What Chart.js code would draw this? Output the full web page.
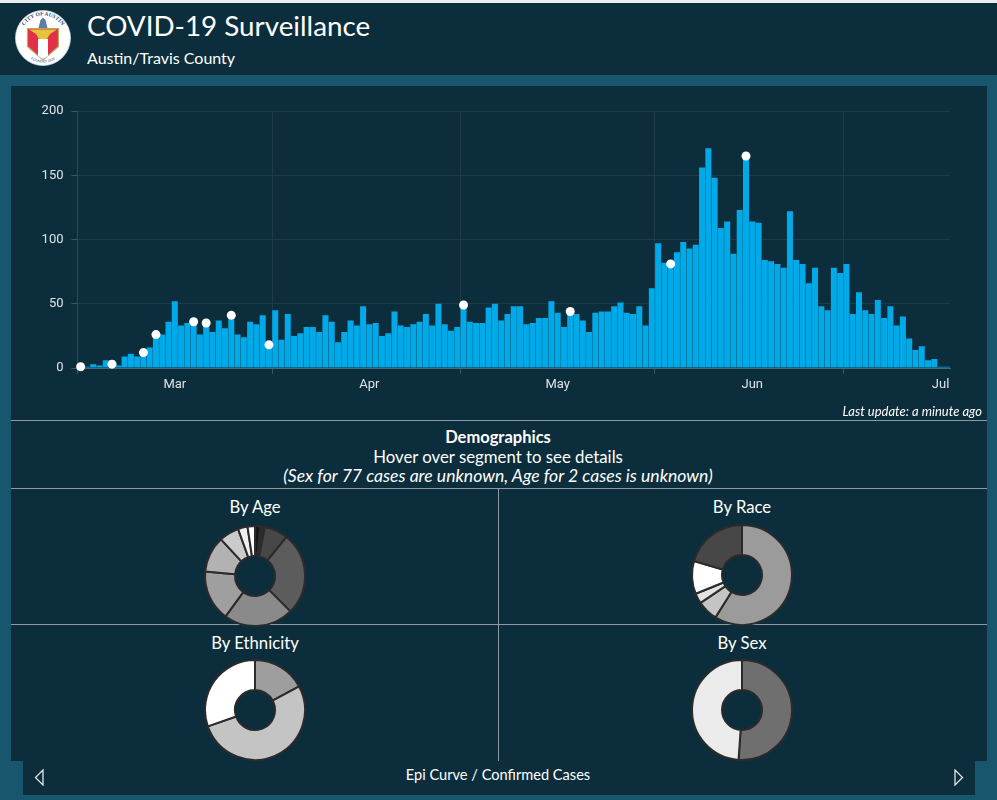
<!DOCTYPE html>
<html>
<head>
<meta charset="utf-8">
<title>COVID-19 Surveillance</title>
<script src="https://cdn.jsdelivr.net/npm/chart.js@4"></script>
<style>
  html, body { margin: 0; padding: 0; }
  body { width: 997px; height: 800px; background: #17566d; position: relative; overflow: hidden; font-family: Lato, sans-serif; color: #fff; }
  .box { position: absolute; background: #0c2e3c; }
  .rule { position: absolute; background: #8b9ba1; }
  .txt { position: absolute; white-space: nowrap; line-height: 1; }
  .mid { transform: translateX(-50%); }
  canvas { position: absolute; }
</style>
</head>
<body>
  <div style="position:absolute;left:0;top:0;width:997px;height:3px;background:#e8ecee"></div>
  <div class="box" style="left:0;top:3px;width:997px;height:72px"></div>
  <div class="box" style="left:11px;top:86px;width:976px;height:675px"></div>
  <div class="box" style="left:23px;top:761px;width:952px;height:34px"></div>

  <svg style="position:absolute;left:14px;top:9px" width="58" height="58" viewBox="0 0 58 58">
    <circle cx="29" cy="29" r="27.5" fill="#fff" stroke="#c9d6dc" stroke-width="0.8"/>
    <defs>
      <path id="sealTop" d="M6.500 29a22.500 22.500 0 0 1 45 0"/>
      <path id="sealBottom" d="M4.500 29a24.500 24.500 0 0 0 49 0"/>
    </defs>
    <text font-family="Liberation Serif" font-size="5.500" font-weight="bold" fill="#27507a" text-anchor="middle"><textPath href="#sealTop" startOffset="50%">CITY OF AUSTIN</textPath></text>
    <text font-family="Liberation Sans" font-size="3.400" fill="#27507a" text-anchor="middle"><textPath href="#sealBottom" startOffset="50%">FOUNDED 1839</textPath></text>
    <path d="M24.500 19L26.500 11L29 8.500L31.500 11L33.500 19Z" fill="#5d7fa3"/>
    <path d="M13.500 19.500H44.500V37.500L29 51L13.500 37.500Z" fill="#e2304a" stroke="#b9ab5c" stroke-width="1.200"/>
    <path d="M24 30H34V47L29 50L24 47Z" fill="#fff"/>
    <path d="M15 20.500H43L36 25L33 30H25L22 25Z" fill="#e9c23c"/>
  </svg>

  <div class="txt" style="left:87px;top:12px;font-size:27.800px">COVID-19 Surveillance</div>
  <div class="txt" style="left:87px;top:50px;font-size:16px">Austin/Travis County</div>

  <canvas id="epiChart" width="976" height="330" style="left:11px;top:86px"></canvas>

  <div class="txt" style="right:15px;top:405px;font-size:13px;font-style:italic">Last update: a minute ago</div>
  <div class="rule" style="left:11px;top:420px;width:976px;height:1px"></div>
  <div class="txt mid" style="left:498px;top:429px;font-size:16.500px;font-weight:bold">Demographics</div>
  <div class="txt mid" style="left:498px;top:449px;font-size:16.800px">Hover over segment to see details</div>
  <div class="txt mid" style="left:498px;top:467px;font-size:17.600px;font-style:italic">(Sex for 77 cases are unknown, Age for 2 cases is unknown)</div>
  <div class="rule" style="left:11px;top:488px;width:976px;height:1px"></div>
  <div class="rule" style="left:11px;top:624px;width:976px;height:1px"></div>
  <div class="rule" style="left:498px;top:489px;width:1px;height:272px"></div>

  <div class="txt mid" style="left:255px;top:499px;font-size:16.700px">By Age</div>
  <div class="txt mid" style="left:742px;top:499px;font-size:16.700px">By Race</div>
  <div class="txt mid" style="left:255px;top:635px;font-size:16.700px">By Ethnicity</div>
  <div class="txt mid" style="left:742px;top:635px;font-size:16.700px">By Sex</div>

  <canvas id="ageChart" width="104" height="104" style="left:203px;top:524px"></canvas>
  <canvas id="raceChart" width="104" height="104" style="left:690px;top:523px"></canvas>
  <canvas id="ethnicityChart" width="104" height="104" style="left:203px;top:658px"></canvas>
  <canvas id="sexChart" width="104" height="104" style="left:690px;top:658px"></canvas>

  <svg style="position:absolute;left:34px;top:769px" width="11" height="17" viewBox="0 0 11 17"><path d="M9 1V16L1.500 8.500Z" fill="none" stroke="#dfe5e8" stroke-width="1.300"/></svg>
  <svg style="position:absolute;left:953px;top:769px" width="11" height="17" viewBox="0 0 11 17"><path d="M2 1V16L9.500 8.500Z" fill="none" stroke="#dfe5e8" stroke-width="1.300"/></svg>
  <div class="txt mid" style="left:498px;top:768px;font-size:14.600px">Epi Curve / Confirmed Cases</div>

<script>
// first reported day, one bar per day after that
const firstDay = '2020-02-15';
const dailyCases = [
  1,1,3,2,6,6,2,9,11,9,12,16,24,26,36,52,33,35,37,26,35,28,37,31,38,26,24,36,34,41,18,45,22,42,25,27,32,32,28,41,36,20,28,37,33,
  48,34,35,25,27,44,33,32,34,36,42,33,50,34,29,32,46,36,35,35,47,50,37,42,48,48,34,35,39,39,52,43,32,42,42,37,28,43,44,44,48,51,43,42,48,33,
  62,97,82,82,90,98,93,96,156,171,148,109,114,89,123,162,114,113,84,83,81,78,122,84,81,66,78,48,45,78,74,81,42,59,45,42,53,39,48,33,40,23,14,17,6,7,1,1
];

const monthDates = ['2020-03-01', '2020-04-01', '2020-05-01', '2020-06-01', '2020-07-01'];
const monthLabels = ['Mar', 'Apr', 'May', 'Jun', 'Jul'];
const gridDates = ['2020-02-15', '2020-03-17', '2020-04-16', '2020-05-17', '2020-06-16'];
const yTicks = [0, 50, 100, 150, 200];

// white event markers on top of the bars
const markerDates = ['2020-02-15', '2020-02-20', '2020-02-25', '2020-02-27', '2020-03-04', '2020-03-06', '2020-03-10', '2020-03-16', '2020-04-16', '2020-05-03', '2020-05-19', '2020-05-31'];
const markerValues = [1, 3, 12, 26, 36, 35, 41, 18, 49, 44, 81, 165];

const ageSegments = ['Group 1', 'Group 2', 'Group 3', 'Group 4', 'Group 5', 'Group 6', 'Group 7', 'Group 8', 'Group 9', 'Group 10'];
const ageShares = [1.7, 1.5, 7.6, 26.7, 22.5, 16.4, 11.7, 6.4, 3.1, 2.4];
const ageColors = ['#161616', '#2e2e2e', '#474747', '#5c5c5c', '#8a8a8a', '#9f9f9f', '#b2b2b2', '#cbcbcb', '#efefef', '#ffffff'];

const raceSegments = ['Group 1', 'Group 2', 'Group 3', 'Group 4', 'Group 5'];
const raceShares = [58.9, 6.7, 3.3, 10.6, 20.5];
const raceColors = ['#9b9b9b', '#c4c4c4', '#e3e3e3', '#ffffff', '#474747'];

const ethnicitySegments = ['Group 1', 'Group 2', 'Group 3'];
const ethnicityShares = [17.2, 52.5, 30.3];
const ethnicityColors = ['#9e9e9e', '#c4c4c4', '#ffffff'];

const sexSegments = ['Group 1', 'Group 2'];
const sexShares = [51.1, 48.9];
const sexColors = ['#6f6f6f', '#ebebeb'];

const dayLabels = dailyCases.map((_, i) => {
    const d = new Date(firstDay + 'T00:00:00Z');
    d.setUTCDate(d.getUTCDate() + i);
    return d.toISOString().slice(0, 10);
});

const markerSeries = dayLabels.map(day => {
    const at = markerDates.indexOf(day);
    return at === -1 ? null : markerValues[at];
});

const faintLine = '#1d3c49';

new Chart(document.getElementById('epiChart'), {
    data: {
        labels: dayLabels,
        datasets: [
            {
                type: 'line',
                data: markerSeries,
                showLine: false,
                pointRadius: 4.5,
                pointBackgroundColor: '#ffffff',
                pointBorderWidth: 0,
                clip: false,
                order: 0
            },
            {
                type: 'bar',
                data: dailyCases,
                backgroundColor: '#00a9e8',
                categoryPercentage: 1,
                barPercentage: 0.96,
                order: 1
            }
        ]
    },
    options: {
        responsive: false,
        animation: false,
        layout: { padding: { top: 25, right: 37 } },
        plugins: { legend: { display: false }, tooltip: { enabled: false } },
        scales: {
            x: {
                offset: true,
                afterFit: scale => { scale.height = 48; },
                border: { color: '#46697a' },
                grid: {
                    offset: true,
                    drawTicks: true,
                    tickLength: 6,
                    color: ctx => gridDates.includes(dayLabels[ctx.index]) ? faintLine : 'transparent',
                    tickColor: ctx => gridDates.includes(dayLabels[ctx.index]) ? '#3a5663' : 'transparent'
                },
                ticks: {
                    autoSkip: false,
                    maxRotation: 0,
                    padding: 3,
                    color: '#dde3e6',
                    font: { family: 'Roboto', size: 13 },
                    callback: function (value) {
                        const at = monthDates.indexOf(this.getLabelForValue(value));
                        return at === -1 ? '' : monthLabels[at];
                    }
                }
            },
            y: {
                min: 0,
                max: 200,
                afterFit: scale => { scale.width = 66.5; },
                afterBuildTicks: scale => { scale.ticks = yTicks.map(value => ({ value })); },
                border: { color: '#2f4c59' },
                grid: { color: faintLine, tickColor: '#3a5663', tickLength: 6 },
                ticks: {
                    padding: 8,
                    color: '#dde3e6',
                    font: { family: 'Roboto', size: 13 }
                }
            }
        }
    }
});

function donut(canvasId, labels, values, colors) {
    new Chart(document.getElementById(canvasId), {
        type: 'doughnut',
        data: {
            labels: labels,
            datasets: [{
                data: values,
                backgroundColor: colors,
                borderColor: '#2b2b2b',
                borderWidth: 2,
                borderAlign: 'center'
            }]
        },
        options: {
            responsive: false,
            animation: false,
            cutout: '40%',
            layout: { padding: 1 },
            plugins: { legend: { display: false } }
        }
    });
}

donut('ageChart', ageSegments, ageShares, ageColors);
donut('raceChart', raceSegments, raceShares, raceColors);
donut('ethnicityChart', ethnicitySegments, ethnicityShares, ethnicityColors);
donut('sexChart', sexSegments, sexShares, sexColors);
</script>
</body>
</html>
